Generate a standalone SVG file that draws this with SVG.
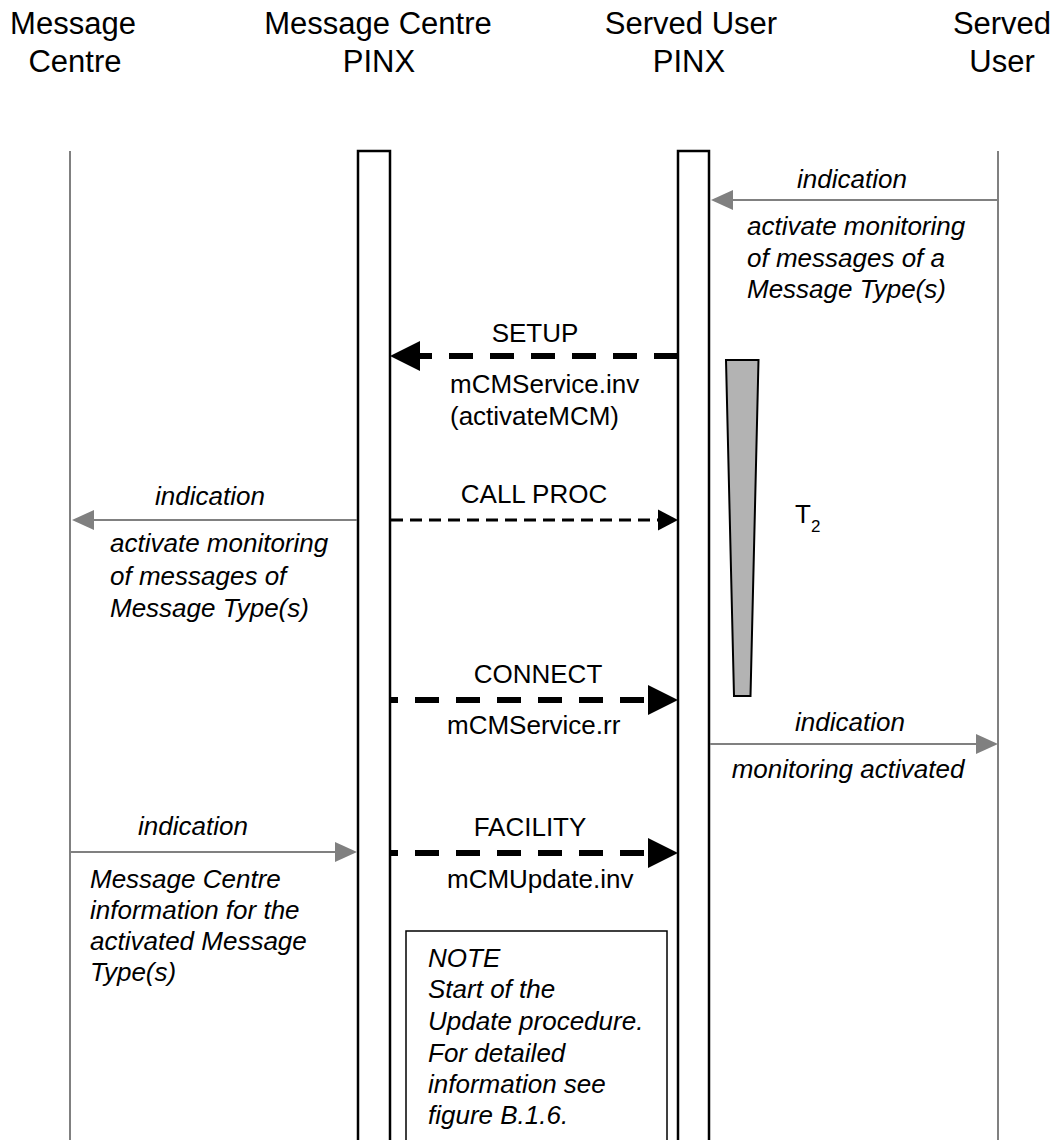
<svg xmlns="http://www.w3.org/2000/svg" width="1054" height="1140" viewBox="0 0 1054 1140">
<style>
.hdr{font-family:"Liberation Sans",Arial,sans-serif;font-size:31px;fill:#000;text-anchor:middle}
.lbl{font-family:"Liberation Sans",Arial,sans-serif;font-size:26px;fill:#000}
.it{font-family:"Liberation Sans",Arial,sans-serif;font-size:26px;font-style:italic;fill:#000}
.mid{text-anchor:middle}
.gl{stroke:#808080;stroke-width:2;fill:none}
.bar{fill:#fff;stroke:#000;stroke-width:2.5}
.thick{stroke:#000;stroke-width:6;stroke-dasharray:24 17;fill:none}
.thin{stroke:#000;stroke-width:3;stroke-dasharray:12 7;fill:none}
</style>
<defs>
<marker id="bigArrow" markerUnits="userSpaceOnUse" markerWidth="30" markerHeight="30" refX="0" refY="15" orient="auto" overflow="visible"><path d="M0,0 L30,15 L0,30 z" fill="#000"/></marker>
<marker id="smallArrow" markerUnits="userSpaceOnUse" markerWidth="20" markerHeight="21" refX="0" refY="10.5" orient="auto" overflow="visible"><path d="M0,0 L20,10.5 L0,21 z" fill="#000"/></marker>
<marker id="grayArrow" markerUnits="userSpaceOnUse" markerWidth="22" markerHeight="20" refX="0" refY="10" orient="auto" overflow="visible"><path d="M0,0 L22,10 L0,20 z" fill="#808080"/></marker>
</defs>

<g id="hdr-mc"><text class="hdr" x="73" y="34">Message</text><text class="hdr" x="75" y="72">Centre</text></g>
<g id="hdr-mcpinx"><text class="hdr" x="378" y="34">Message Centre</text><text class="hdr" x="379" y="72">PINX</text></g>
<g id="hdr-supinx"><text class="hdr" x="691" y="34">Served User</text><text class="hdr" x="689" y="72">PINX</text></g>
<g id="hdr-su"><text class="hdr" x="1002" y="34">Served</text><text class="hdr" x="1002" y="72">User</text></g>

<g id="lifeline-mc"><line class="gl" x1="70" y1="151" x2="70" y2="1140"/></g>
<g id="lifeline-su"><line class="gl" x1="998" y1="151" x2="998" y2="1140"/></g>
<g id="lifeline-mcpinx"><rect class="bar" x="358" y="151" width="32" height="1010"/></g>
<g id="lifeline-supinx"><rect class="bar" x="678" y="151" width="31" height="1010"/></g>

<g id="timer-t2">
<path d="M726,360 L758.5,360 L750.5,696 L734,696 z" fill="#b3b3b3" stroke="#000" stroke-width="2"/>
<text class="lbl" x="795" y="523">T<tspan font-size="17" dy="9">2</tspan></text>
</g>

<g id="connectors">
<line class="gl" x1="998" y1="200" x2="733" y2="200" marker-end="url(#grayArrow)"/>
<line class="thick" x1="678" y1="356" x2="420" y2="356" marker-end="url(#bigArrow)"/>
<line class="thin" x1="391" y1="520" x2="658" y2="520" marker-end="url(#smallArrow)"/>
<line class="gl" x1="357" y1="520" x2="94" y2="520" marker-end="url(#grayArrow)"/>
<line class="thick" x1="391" y1="700" x2="648" y2="700" stroke-dashoffset="17" marker-end="url(#bigArrow)"/>
<line class="gl" x1="710" y1="744" x2="976" y2="744" marker-end="url(#grayArrow)"/>
<line class="gl" x1="71" y1="852" x2="335" y2="852" marker-end="url(#grayArrow)"/>
<line class="thick" x1="391" y1="853" x2="648" y2="853" stroke-dashoffset="17" marker-end="url(#bigArrow)"/>
</g>

<g id="labels">
<text class="it mid" x="852" y="188">indication</text>
<text class="it" x="747" y="235">activate monitoring</text>
<text class="it" x="747" y="267">of messages of a</text>
<text class="it" x="747" y="298">Message Type(s)</text>

<text class="lbl mid" x="535" y="342">SETUP</text>
<text class="lbl" x="450" y="393">mCMService.inv</text>
<text class="lbl" x="450" y="425">(activateMCM)</text>

<text class="lbl mid" x="534" y="503">CALL PROC</text>
<text class="it mid" x="210" y="505">indication</text>
<text class="it" x="110" y="552">activate monitoring</text>
<text class="it" x="110" y="585">of messages of</text>
<text class="it" x="110" y="617">Message Type(s)</text>

<text class="lbl mid" x="538" y="683">CONNECT</text>
<text class="lbl" x="447" y="734">mCMService.rr</text>

<text class="it mid" x="850" y="731">indication</text>
<text class="it mid" x="848" y="778">monitoring activated</text>

<text class="it mid" x="193" y="835">indication</text>
<text class="it" x="90" y="888">Message Centre</text>
<text class="it" x="90" y="919">information for the</text>
<text class="it" x="90" y="950">activated Message</text>
<text class="it" x="90" y="981">Type(s)</text>

<text class="lbl mid" x="530" y="836">FACILITY</text>
<text class="lbl" x="447" y="888">mCMUpdate.inv</text>
</g>

<g id="note">
<rect x="406" y="931" width="261" height="230" fill="#fff" stroke="#000" stroke-width="1.5"/>
<text class="it" x="428" y="967">NOTE</text>
<text class="it" x="428" y="998">Start of the</text>
<text class="it" x="428" y="1030">Update procedure.</text>
<text class="it" x="428" y="1062">For detailed</text>
<text class="it" x="428" y="1093">information see</text>
<text class="it" x="428" y="1124">figure B.1.6.</text>
</g>
</svg>
